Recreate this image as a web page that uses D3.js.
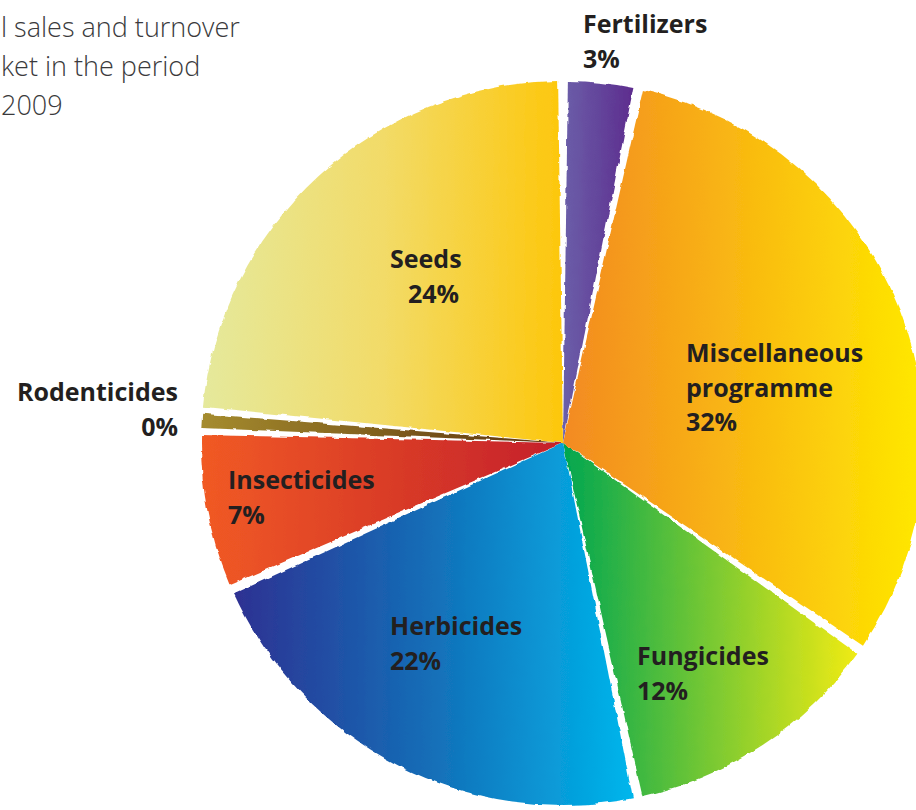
<!DOCTYPE html>
<meta charset="utf-8">
<script src="https://cdn.jsdelivr.net/npm/d3@7"></script>
<style>
  body { margin: 0; background: #fff; }
  svg { display: block; }
</style>
<div id="my_pie"></div>
<script>
  // data, clockwise from 12 o'clock
  var categories = ["Fertilizers", "Miscellaneous programme", "Fungicides", "Herbicides", "Insecticides", "Rodenticides", "Seeds"];
  var shares = [3, 32, 12, 22, 7, 0.4, 24];
  var shareLabels = ["3%", "32%", "12%", "22%", "7%", "0%", "24%"];
  var titleLines = ["l sales and turnover", "ket in the period", "2009"];

  // gradient colours (left -> right) for each slice
  var gradients = [
    ["#6b5fa9", "#5d2c8e"],
    ["#f38a22", "#ffe900"],
    ["#00a651", "#f0eb14"],
    ["#2e3192", "#136fb8", "#00b6ec"],
    ["#f15a24", "#c4202b"],
    ["#a58c2e", "#5a300e"],
    ["#e5e99c", "#f2db68", "#fdc70c"]
  ];

  var width = 916, height = 810;
  var cx = 563, cy = 443, radius = 362;

  var svg = d3.select("#my_pie")
    .append("svg")
    .attr("width", width)
    .attr("height", height);

  var defs = svg.append("defs");

  // torn paper edge (filter region in the pie group's own coordinates)
  var rough = defs.append("filter")
    .attr("id", "rough")
    .attr("filterUnits", "userSpaceOnUse")
    .attr("x", -cx - 20).attr("y", -cy - 20)
    .attr("width", width + 40).attr("height", height + 40);
  rough.append("feTurbulence")
    .attr("type", "fractalNoise")
    .attr("baseFrequency", 0.09)
    .attr("numOctaves", 2)
    .attr("seed", 3)
    .attr("result", "noise");
  rough.append("feDisplacementMap")
    .attr("in", "SourceGraphic")
    .attr("in2", "noise")
    .attr("scale", 4)
    .attr("xChannelSelector", "R")
    .attr("yChannelSelector", "G");

  gradients.forEach(function (stops, i) {
    var g = defs.append("linearGradient")
      .attr("id", "grad" + i)
      .attr("x1", "0%").attr("x2", "100%")
      .attr("y1", "0%").attr("y2", "0%");
    stops.forEach(function (c, j) {
      g.append("stop")
        .attr("offset", (j / (stops.length - 1) * 100) + "%")
        .attr("stop-color", c);
    });
  });

  // title (cut off at the left edge in the original)
  svg.append("g")
    .selectAll("text")
    .data(titleLines)
    .enter()
    .append("text")
    .attr("x", 1)
    .attr("y", function (d, i) { return 37 + i * 39; })
    .style("font-family", "'Open Sans', 'Noto Sans', sans-serif")
    .style("font-weight", 300)
    .style("font-size", "27px")
    .style("fill", "#3a3a3c")
    .text(function (d) { return d; });

  var pie = d3.pie()
    .sort(null)
    .value(function (d) { return d; })
    .padAngle(0.027);

  var slices = pie(shares);
  // the tiny slice gets less padding so it stays visible as a thin sliver
  slices[5].padAngle = 0.012;

  var arcGen = d3.arc()
    .innerRadius(0)
    .outerRadius(radius)
    .padRadius(radius);

  var pieG = svg.append("g")
    .attr("transform", "translate(" + cx + "," + cy + ")");

  pieG.append("g")
    .attr("filter", "url(#rough)")
    .selectAll("path")
    .data(slices)
    .enter()
    .append("path")
    .attr("d", arcGen)
    .attr("fill", function (d, i) { return "url(#grad" + i + ")"; });

  // label anchors [x, y of first baseline, anchor]
  var labelPos = [
    [583, 33, "start"],
    [686, 362, "start"],
    [637, 665, "start"],
    [390, 635, "start"],
    [228, 489, "start"],
    [178, 401, "end"],
    [390, 268, "start"]
  ];
  var labelLines = categories.map(function (c, i) {
    var words = c === "Miscellaneous programme" ? ["Miscellaneous", "programme"] : [c];
    return words.concat([shareLabels[i]]);
  });

  var labels = svg.append("g")
    .selectAll("text")
    .data(labelLines)
    .enter()
    .append("text")
    .attr("text-anchor", function (d, i) { return labelPos[i][2]; })
    .style("font-family", "'Open Sans', 'Noto Sans', sans-serif")
    .style("font-weight", 700)
    .style("font-size", "25px")
    .style("fill", "#231f20");

  labels.selectAll("tspan")
    .data(function (d, i) { return d.map(function (t) { return { t: t, i: i }; }); })
    .enter()
    .append("tspan")
    .attr("x", function (d, j) {
      var x = labelPos[d.i][0];
      // "24%" sits a little right of "Seeds"
      if (d.i === 6 && j === 1) x += 18;
      return x;
    })
    .attr("y", function (d, j) { return labelPos[d.i][1] + j * 34.5; })
    .text(function (d) { return d.t; });
</script>
